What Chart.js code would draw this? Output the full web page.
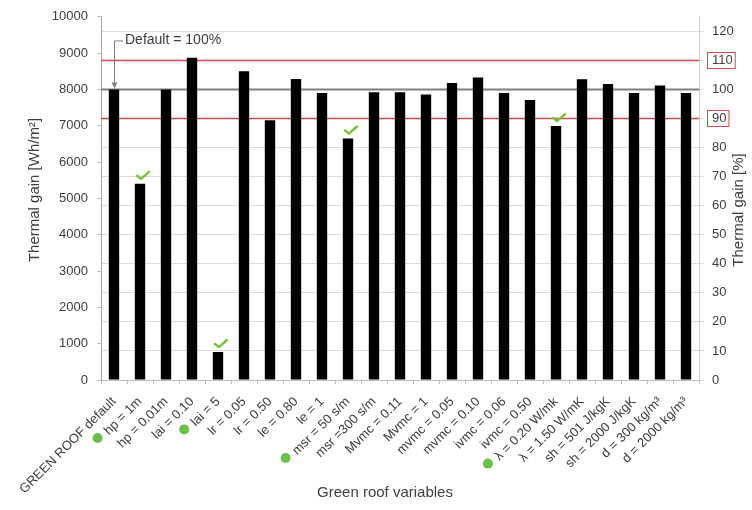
<!DOCTYPE html>
<html>
<head>
<meta charset="utf-8">
<script src="https://cdn.jsdelivr.net/npm/chart.js@4/dist/chart.umd.min.js"></script>
<style>
  html, body { margin: 0; padding: 0; background: #ffffff; }
  #wrap { width: 752px; height: 510px; }
</style>
</head>
<body>
<div id="wrap"><canvas id="c" width="752" height="510"></canvas></div>
<script>
// Green roof parameter variations and the resulting thermal gain
const categories = [
  'GREEN ROOF default', 'hp = 1m', 'hp = 0.01m', 'lai = 0.10', 'lai = 5',
  'lr = 0.05', 'lr = 0.50', 'le = 0.80', 'le = 1', 'msr = 50 s/m',
  'msr =300 s/m', 'Mvmc = 0.11', 'Mvmc = 1', 'mvmc = 0.05', 'mvmc = 0.10',
  'ivmc = 0.06', 'ivmc = 0.50', 'λ = 0.20 W/mk', 'λ = 1.50 W/mK',
  'sh = 501 J/kgK', 'sh = 2000 J/kgK', 'd = 300 kg/m³', 'd = 2000 kg/m³'
];
const thermalGain = [
  8000, 5400, 8000, 8870, 770,
  8500, 7150, 8290, 7900, 6650,
  7920, 7920, 7860, 8180, 8330,
  7900, 7710, 6990, 8280,
  8150, 7900, 8110, 7900
];
// variables that bring the gain below the lower band limit
const highlighted = ['hp = 1m', 'lai = 5', 'msr = 50 s/m', 'λ = 0.20 W/mk'];

const gainMax = 10000;          // Wh/m²
const gainStep = 1000;
const referenceGain = 8000;     // default roof = 100 %
const percentStep = 10;
const percentGrid = 5;
const bandLimits = [110, 90];   // %
const percentMax = gainMax / referenceGain * 100;

const FONT = "'Liberation Sans', Arial, sans-serif";
const TEXT = '#404040';
const TICK_SIZE = 13;
const TITLE_SIZE = 15;

const decorations = {
  id: 'decorations',
  beforeDatasetsDraw(chart) {
    const { ctx, chartArea, scales } = chart;
    const y = scales.y, y1 = scales.y1;
    ctx.save();
    // 100 % reference line
    ctx.strokeStyle = '#7f7f7f';
    ctx.lineWidth = 2;
    const py = y.getPixelForValue(referenceGain);
    ctx.beginPath(); ctx.moveTo(chartArea.left, py); ctx.lineTo(chartArea.right, py); ctx.stroke();
    // ±10 % band lines
    ctx.strokeStyle = '#c0504d';
    ctx.lineWidth = 1.5;
    bandLimits.forEach(p => {
      const yy = y1.getPixelForValue(p);
      ctx.beginPath(); ctx.moveTo(chartArea.left, yy); ctx.lineTo(chartArea.right, yy); ctx.stroke();
    });
    ctx.restore();
  },
  afterDraw(chart) {
    const { ctx, chartArea, scales } = chart;
    const x = scales.x, y = scales.y, y1 = scales.y1;
    ctx.save();

    // boxes round the band limit labels on the percentage axis
    ctx.font = TICK_SIZE + 'px ' + FONT;
    ctx.strokeStyle = '#c0504d';
    ctx.lineWidth = 1;
    bandLimits.forEach(p => {
      const yy = y1.getPixelForValue(p);
      const w = ctx.measureText(String(p)).width;
      ctx.strokeRect(chartArea.right + 8.5, Math.round(yy - 8) + 0.5, w + 7, 16);
    });

    // "Default = 100%" callout with leader arrow
    const bx = x.getPixelForValue(0);
    const by = y.getPixelForValue(thermalGain[0]);
    const ty = y.getPixelForValue(referenceGain) - 49;
    ctx.fillStyle = TEXT;
    ctx.font = '14px ' + FONT;
    ctx.textAlign = 'left';
    ctx.textBaseline = 'middle';
    ctx.fillText('Default = 100%', bx + 11, ty);
    ctx.strokeStyle = '#808080';
    ctx.lineWidth = 1;
    ctx.beginPath();
    ctx.moveTo(bx + 9, ty + 0.5); ctx.lineTo(bx + 0.5, ty + 0.5); ctx.lineTo(bx + 0.5, by - 2);
    ctx.stroke();
    ctx.fillStyle = '#808080';
    ctx.beginPath();
    ctx.moveTo(bx + 0.5, by - 1); ctx.lineTo(bx - 2.5, by - 7); ctx.lineTo(bx + 3.5, by - 7); ctx.closePath();
    ctx.fill();

    // check marks above the highlighted bars
    const meta = chart.getDatasetMeta(0);
    ctx.strokeStyle = '#7dc242';
    ctx.lineWidth = 2.5;
    ctx.lineCap = 'round';
    ctx.lineJoin = 'round';
    highlighted.forEach(name => {
      const i = categories.indexOf(name);
      const bar = meta.data[i];
      const cx = bar.x + 3, cy = y.getPixelForValue(thermalGain[i]) - 8;
      ctx.beginPath();
      ctx.moveTo(cx - 6, cy); ctx.lineTo(cx - 2, cy + 3); ctx.lineTo(cx + 6, cy - 4);
      ctx.stroke();
    });

    // green dots in front of the highlighted category labels
    const items = x.getLabelItems ? x.getLabelItems(chartArea) : [];
    ctx.font = TICK_SIZE + 'px ' + FONT;
    ctx.fillStyle = '#6cc04a';
    highlighted.forEach(name => {
      const i = categories.indexOf(name);
      const it = items[i];
      if (!it) return;
      const [tx, ty2] = it.options.translation;
      const r = it.options.rotation;
      const w = ctx.measureText(name).width + 10;
      const off = (it.options.textBaseline === 'top' ? 6 : 0) + 5;
      const dx = -w, dy = off;
      const px = tx + dx * Math.cos(r) - dy * Math.sin(r);
      const pyy = ty2 + dx * Math.sin(r) + dy * Math.cos(r);
      ctx.beginPath(); ctx.arc(px, pyy, 5, 0, Math.PI * 2); ctx.fill();
    });

    // axis titles
    ctx.fillStyle = TEXT;
    ctx.font = TITLE_SIZE + 'px ' + FONT;
    ctx.textAlign = 'center';
    ctx.textBaseline = 'middle';
    ctx.fillText('Green roof variables', 385, 493);
    ctx.save();
    ctx.translate(35, 190); ctx.rotate(-Math.PI / 2);
    ctx.fillText('Thermal gain [Wh/m²]', 0, 0);
    ctx.restore();
    ctx.save();
    ctx.translate(739, 210); ctx.rotate(-Math.PI / 2);
    ctx.fillText('Thermal gain [%]', 0, 0);
    ctx.restore();

    ctx.restore();
  }
};

new Chart(document.getElementById('c'), {
  type: 'bar',
  data: {
    labels: categories,
    datasets: [{
      data: thermalGain,
      backgroundColor: '#000000',
      barPercentage: 0.8,
      categoryPercentage: 0.5,
      yAxisID: 'y'
    }]
  },
  options: {
    responsive: false,
    animation: false,
    devicePixelRatio: 1,
    layout: { padding: { top: 16, left: 0, right: 0, bottom: 0 } },
    plugins: { legend: { display: false }, tooltip: { enabled: false } },
    scales: {
      x: {
        grid: { offset: true, drawOnChartArea: false, drawTicks: true, tickLength: 4, color: '#bfbfbf' },
        border: { color: '#bfbfbf' },
        ticks: {
          autoSkip: false, minRotation: 45, maxRotation: 45, padding: 10,
          color: TEXT, font: { family: FONT, size: TICK_SIZE }
        },
        afterFit(s) { s.height = 130; }
      },
      y: {
        position: 'left',
        min: 0, max: gainMax,
        ticks: {
          stepSize: gainStep, padding: 9, color: TEXT, font: { family: FONT, size: TICK_SIZE },
          callback: v => String(v)
        },
        grid: { drawOnChartArea: false, tickLength: 4, color: '#bfbfbf' },
        border: { color: '#a6a6a6' },
        afterFit(s) { s.width = 101; }
      },
      y1: {
        position: 'right',
        min: 0, max: percentMax,
        ticks: {
          stepSize: percentGrid, padding: 8, color: TEXT, font: { family: FONT, size: TICK_SIZE },
          callback: v => (v % percentStep === 0 ? String(v) : '')
        },
        grid: { color: '#dcdcdc', tickLength: 5 },
        border: { color: '#d0d0d0' },
        afterFit(s) { s.width = 53; }
      }
    }
  },
  plugins: [decorations]
});
</script>
</body>
</html>
